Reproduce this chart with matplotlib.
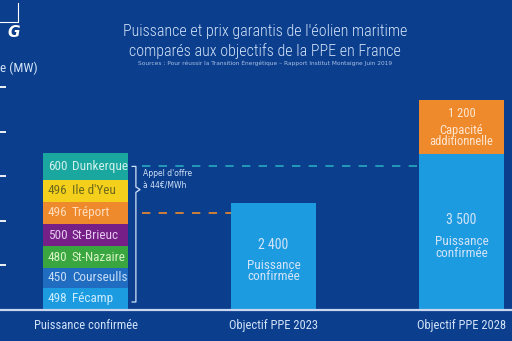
import numpy as np
import matplotlib.pyplot as plt

plt.rcParams['font.family'] = ['Roboto Condensed', 'DejaVu Sans']

# data
sites = ["Fécamp", "Courseulls", "St-Nazaire", "St-Brieuc", "Tréport", "Ile d'Yeu", "Dunkerque"]
site_mw = [498, 450, 480, 500, 496, 496, 600]
site_colors = ["#1c9be0", "#1f6cc0", "#3aa63f", "#761f86", "#ef8a2c", "#f4cf1c", "#1aa79f"]
site_text = ["#c9ecff", "#c6dcf6", "#d6f3c6", "#e6c9f0", "#ffdcbc", "#6e6a1c", "#cdf1ea"]

categories = ["Puissance confirmée", "Objectif PPE 2023", "Objectif PPE 2028"]
ppe_confirmed = [2400, 3500]
ppe_extra = [0, 1200]
yticks = [1000, 2000, 3000, 4000, 5000]

bg = "#0b3e8d"
light_blue = "#1c9be0"
orange = "#ef8a2c"
pale = "#d2e3f8"

fig = plt.figure(figsize=(5.12, 3.41), dpi=100)
fig.patch.set_facecolor(bg)
ax = fig.add_axes([0, 0, 1, 1])
ax.set_facecolor(bg)
ax.set_xlim(-0.455, 2.269)
ax.set_ylim(-695, 6951)
for s in ax.spines.values():
    s.set_visible(False)
ax.set_xticks([])
ax.set_yticks(yticks)
ax.set_yticklabels([])
ax.tick_params(axis='y', direction='in', length=4, width=1.3, color="white", pad=0)

w = 0.452
x = np.arange(len(categories))

# stacked wind farms
bottom = 0
mids = {}
for name, mw, c, tc in zip(sites, site_mw, site_colors, site_text):
    ax.bar(x[0], mw, bottom=bottom, width=w, color=c, linewidth=0)
    mid = bottom + mw / 2
    mids[name] = mid
    ax.text(x[0] - 0.2, mid, str(mw), color=tc, fontsize=9.5, ha='left', va='center')
    ax.text(x[0] - 0.072, mid, name, color=tc, fontsize=9.5, ha='left', va='center')
    bottom += mw

# PPE objectives
ax.bar(x[1:], ppe_confirmed, width=w, color=light_blue, linewidth=0)
ax.bar(x[1:], ppe_extra, bottom=ppe_confirmed, width=w, color=orange, linewidth=0)

ax.text(x[1], 1450, "2 400", color=pale, fontsize=10, ha='center', va='center')
ax.text(x[1], 880, "Puissance\nconfirmée", color=pale, fontsize=9.5, ha='center',
        va='center', linespacing=0.85)
ax.text(x[2], 2020, "3 500", color=pale, fontsize=10, ha='center', va='center')
ax.text(x[2], 1400, "Puissance\nconfirmée", color=pale, fontsize=9.5, ha='center',
        va='center', linespacing=0.85)
ax.text(x[2], 4400, "1 200", color="#fde6d2", fontsize=9, ha='center', va='center')
ax.text(x[2], 3900, "Capacité\nadditionnelle", color="#fde6d2", fontsize=9, ha='center',
        va='center', linespacing=0.8)

# baseline
ax.axhline(0, color="#c9d8f0", lw=1.6)

# dashed guides
ax.plot([0.30, x[2] - w / 2], [mids["Dunkerque"]] * 2, color="#27a9c0", lw=1.2,
        dashes=(5, 5))
ax.plot([0.30, x[1] - w / 2], [mids["Tréport"]] * 2, color=orange, lw=1.2,
        dashes=(5, 5))

# brace
bx0, bx1, btip = 0.248, 0.268, 0.29
ytop, ybot, ytip = mids["Dunkerque"], 180, 2700
ax.plot([bx0, bx1, bx1, btip, bx1, bx1, bx0],
        [ytop, ytop, ytip + 60, ytip, ytip - 60, ybot, ybot], color=pale, lw=0.9)
ax.text(0.305, 2930, "Appel d'offre\nà 44€/MWh", color=pale, fontsize=5.5,
        ha='left', va='center', family=['DejaVu Sans'], linespacing=1.3)

# category labels
for xi, lab in zip(x, categories):
    ax.text(xi, -340, lab, color=pale, fontsize=9, ha='center', va='center')

# titles
fig.text(0.517, 0.909, "Puissance et prix garantis de l'éolien maritime",
         color=pale, fontsize=11.5, fontweight='light', ha='center', va='center')
fig.text(0.517, 0.850, "comparés aux objectifs de la PPE en France",
         color=pale, fontsize=11.5, fontweight='light', ha='center', va='center')
fig.text(0.517, 0.815,
         "Sources : Pour réussir la Transition Énergétique – Rapport Institut Montaigne Juin 2019",
         color="#a9c0e6", fontsize=4.2, ha='center', va='center', family=['DejaVu Sans'])
fig.text(0.0, 0.80, "e (MW)", color=pale, fontsize=9.5, ha='left', va='center')

# logo fragment
fig.text(0.026, 0.905, "G", color="white", fontsize=11, fontweight='bold',
         style='italic', ha='center', va='center', family=['DejaVu Sans'])
fig.add_artist(plt.Line2D([0.0, 0.036, 0.036], [0.935, 0.935, 0.99],
                          color="white", lw=0.8, transform=fig.transFigure))

fig.savefig("out.png", dpi=100, facecolor=bg)
